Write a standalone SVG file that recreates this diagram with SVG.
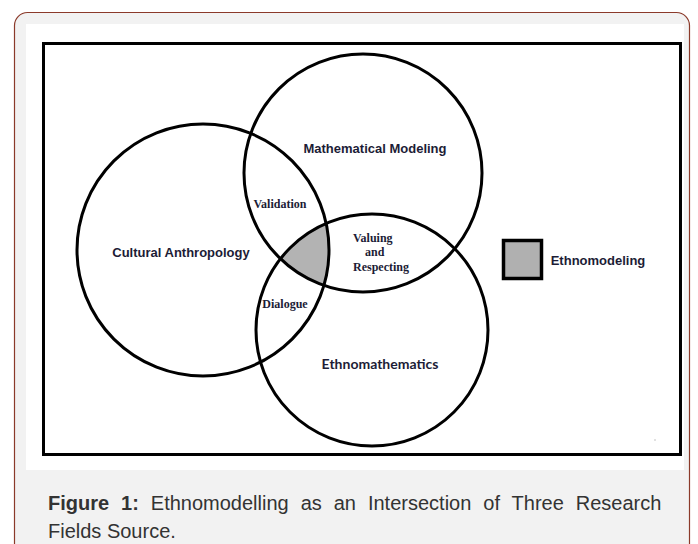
<svg xmlns="http://www.w3.org/2000/svg" width="698" height="544" viewBox="0 0 698 544">
<style>
.ring{fill:none;stroke:#000;stroke-width:3}
.lbl{font-family:"Liberation Sans",Arial,sans-serif;font-weight:bold;font-size:13px;fill:#1c1c36;text-anchor:middle}
.lato{font-family:Lato,"Liberation Sans",sans-serif;font-weight:bold;font-size:14px;fill:#1c1c36;text-anchor:middle}
.ser{font-family:"Liberation Serif","Times New Roman",serif;font-weight:bold;font-size:12px;fill:#1c1c36;text-anchor:middle}
.ser.st{text-anchor:start}
.cap{font-family:"Liberation Sans",Arial,sans-serif;font-size:20px;fill:#333}
</style>
<defs>
<clipPath id="clipCA"><circle cx="203" cy="250" r="126"/></clipPath>
<clipPath id="clipEth"><circle cx="372" cy="330" r="116"/></clipPath>
</defs>
<rect x="14.5" y="12.5" width="675" height="580" rx="13" fill="#f2f2f2" stroke="#8b3a2a" stroke-width="1.2"/>
<rect x="26" y="24" width="658" height="446" fill="#fff"/>
<rect x="43.5" y="43.5" width="637" height="411" fill="none" stroke="#000" stroke-width="3"/>
<circle cx="655" cy="440" r="0.8" fill="#bbb"/>
<g id="shaded-intersection" clip-path="url(#clipCA)">
<circle cx="363" cy="173" r="119" fill="#b3b3b3" clip-path="url(#clipEth)"/>
</g>
<g id="connectors"></g>
<g id="cultural-anthropology">
<circle class="ring" cx="203" cy="250" r="126"/>
<text class="lbl" x="181" y="257">Cultural Anthropology</text>
</g>
<g id="mathematical-modeling">
<circle class="ring" cx="363" cy="173" r="119"/>
<text class="lbl" x="375" y="153">Mathematical Modeling</text>
</g>
<g id="ethnomathematics">
<circle class="ring" cx="372" cy="330" r="116"/>
<text class="lato" x="380" y="369">Ethnomathematics</text>
</g>
<g id="validation"><text class="ser" x="280" y="208">Validation</text></g>
<g id="valuing">
<text class="ser st" x="353" y="242">Valuing</text>
<text class="ser st" x="365" y="256">and</text>
<text class="ser st" x="353" y="271">Respecting</text>
</g>
<g id="dialogue"><text class="ser" x="285" y="308">Dialogue</text></g>
<g id="legend">
<rect x="503.5" y="240.5" width="38" height="38" fill="#b0b0b0" stroke="#000" stroke-width="3.5"/>
<text class="lbl" x="598" y="265">Ethnomodeling</text>
</g>
<g id="caption">
<text class="cap" x="48" y="510" word-spacing="6.4"><tspan font-weight="bold">Figure 1:</tspan> Ethnomodelling as an Intersection of Three Research</text>
<text class="cap" x="48" y="538">Fields Source.</text>
</g>
</svg>
